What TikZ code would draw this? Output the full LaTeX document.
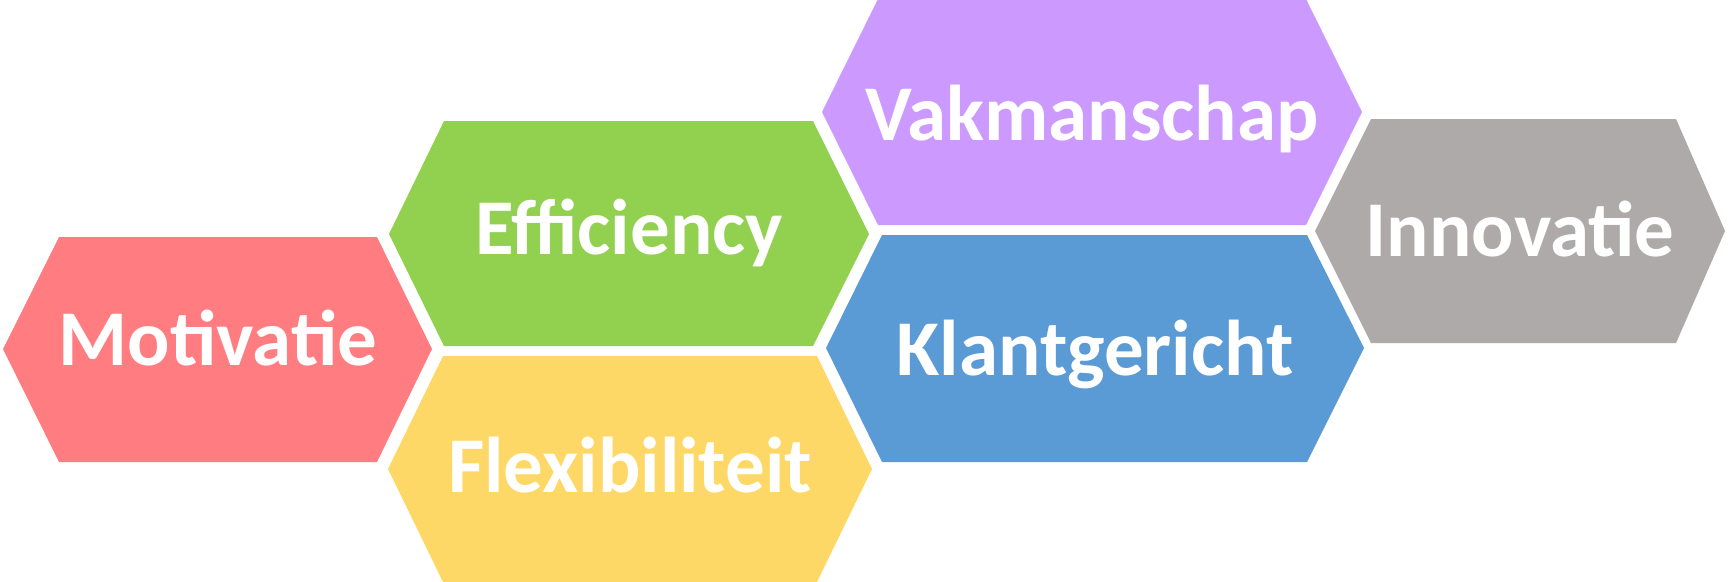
\documentclass[tikz,border=0pt]{standalone}
\usepackage{fontspec}
\setmainfont{Carlito}
\definecolor{cmot}{HTML}{FF7C80}
\definecolor{ceff}{HTML}{92D050}
\definecolor{cflex}{HTML}{FDD867}
\definecolor{cvak}{HTML}{CC99FF}
\definecolor{cklant}{HTML}{5B9BD5}
\definecolor{cinno}{HTML}{AEAAAA}
\tikzset{lbl/.style={text=white,font=\bfseries\fontsize{79}{79}\selectfont,anchor=base,inner sep=0pt}}
\newcommand{\hexa}[8]{% color, left x, tl x, tr x, right x, top y, mid y, bottom y
  \fill[#1] (#2,#7) -- (#3,#6) -- (#4,#6) -- (#5,#7) -- (#4,#8) -- (#3,#8) -- cycle;}
\begin{document}
\begin{tikzpicture}[x=1pt,y=-1pt]
\useasboundingbox (0,0) rectangle (1732,581);
\hexa{cmot}{3}{59}{377}{432}{237}{349}{462}
\hexa{ceff}{389}{444}{813}{869}{121}{234}{346}
\hexa{cflex}{388}{443}{817}{872}{356}{469}{582}
\hexa{cvak}{822}{878}{1306}{1362}{-1}{112}{225}
\hexa{cklant}{826}{882}{1307}{1364}{235}{348}{462}
\hexa{cinno}{1315}{1371}{1676}{1725}{119}{231}{343}
\node[lbl] (mot) at (218,365) {Motivatie};
\node[lbl] (eff) at (629,254) {Efficiency};
\node[lbl] (flex) at (630,492) {Flexibiliteit};
\node[lbl] (vak) at (1092,140) {Vakmanschap};
\node[lbl] (klant) at (1095,375) {Klantgericht};
\node[lbl] (inno) at (1520,256) {Innovatie};
\end{tikzpicture}
\end{document}
